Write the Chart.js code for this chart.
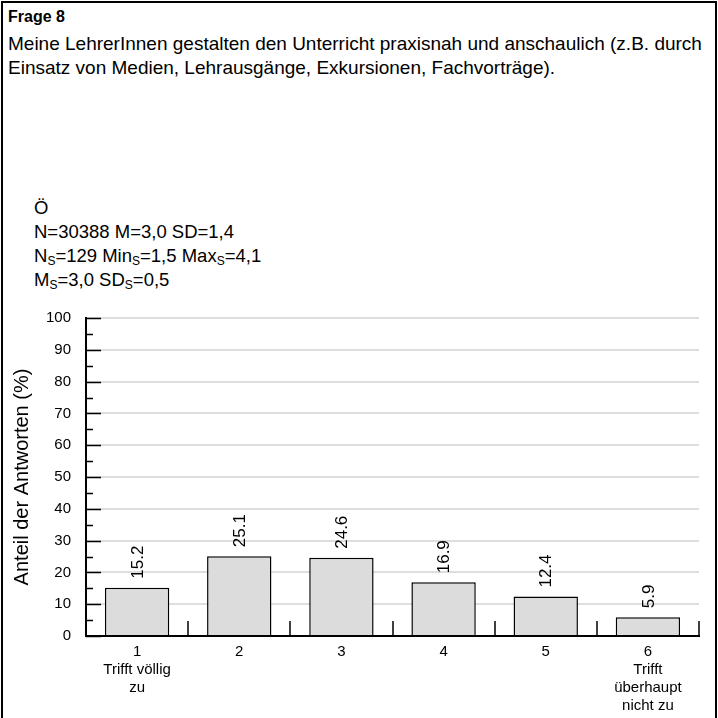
<!DOCTYPE html>
<html lang="de">
<head>
<meta charset="utf-8">
<script src="https://cdn.jsdelivr.net/npm/chart.js@4.4.1/dist/chart.umd.min.js"></script>
<style>
  html, body { margin: 0; padding: 0; background: #fff; }
  body { width: 718px; height: 718px; position: relative; overflow: hidden;
         font-family: "Liberation Sans", Arial, sans-serif; color: #000; }
  #frame { position: absolute; left: 1px; top: 1px; width: 716px; height: 730px;
           border: 2px solid #000; box-sizing: border-box; }
  .txt { position: absolute; font-size: 19px; line-height: 24px; white-space: nowrap; }
  #title { left: 8px; top: 5px; font-weight: bold; font-size: 16px; }
  #question { left: 8px; top: 32px; }
  #stats { left: 34px; top: 196px; font-size: 18.5px; }
  sub { font-size: 12px; vertical-align: -3px; line-height: 0; }
  #chartBox { position: absolute; left: 0; top: 0; width: 718px; height: 718px; }
</style>
</head>
<body>
<div id="frame"></div>
<div class="txt" id="title">Frage 8</div>
<div class="txt" id="question">Meine LehrerInnen gestalten den Unterricht praxisnah und anschaulich (z.B. durch<br>Einsatz von Medien, Lehrausgänge, Exkursionen, Fachvorträge).</div>
<div class="txt" id="stats">Ö<br>N=30388 M=3,0 SD=1,4<br>N<sub>S</sub>=129 Min<sub>S</sub>=1,5 Max<sub>S</sub>=4,1<br>M<sub>S</sub>=3,0 SD<sub>S</sub>=0,5</div>
<div id="chartBox"><canvas id="barChart"></canvas></div>
<script>
// Antwortverteilung in Prozent
const categories = [
  ["1", "Trifft völlig", "zu"],
  ["2"],
  ["3"],
  ["4"],
  ["5"],
  ["6", "Trifft", "überhaupt", "nicht zu"],
];
const shares = [15.2, 25.1, 24.6, 16.9, 12.4, 5.9];
const yTicks = [0, 10, 20, 30, 40, 50, 60, 70, 80, 90, 100];

const FONT = '"Liberation Sans", Arial, sans-serif';

// Tick marks drawn inside the plot area, like the original
const innerTicks = {
  id: "innerTicks",
  afterDatasetsDraw(chart) {
    const { ctx, chartArea, scales } = chart;
    const x = scales.x, y = scales.y;
    ctx.save();
    ctx.strokeStyle = "#000";
    ctx.lineWidth = 1.5;
    for (let v = 0; v <= 100; v += 5) {
      const py = Math.round(y.getPixelForValue(v)) + 0.5;
      const len = v % 10 === 0 ? 15 : 7;
      ctx.beginPath();
      ctx.moveTo(chartArea.left, py);
      ctx.lineTo(chartArea.left + len, py);
      ctx.stroke();
    }
    const half = (x.getPixelForValue(1) - x.getPixelForValue(0)) / 2;
    for (let i = 0; i < categories.length; i++) {
      const px = Math.round(x.getPixelForValue(i) + half);
      ctx.beginPath();
      ctx.moveTo(px, chartArea.bottom);
      ctx.lineTo(px, chartArea.bottom - 15);
      ctx.stroke();
    }
    ctx.restore();
  },
};

// Rotated value labels above each bar
const valueLabels = {
  id: "valueLabels",
  afterDatasetsDraw(chart) {
    const { ctx } = chart;
    const meta = chart.getDatasetMeta(0);
    ctx.save();
    ctx.fillStyle = "#000";
    ctx.font = "17px " + FONT;
    ctx.textAlign = "left";
    ctx.textBaseline = "middle";
    meta.data.forEach((bar, i) => {
      ctx.save();
      ctx.translate(bar.x + 1, bar.y - 9);
      ctx.rotate(-Math.PI / 2);
      ctx.fillText(shares[i].toFixed(1), 0, 0);
      ctx.restore();
    });
    ctx.restore();
  },
};

new Chart(document.getElementById("barChart"), {
  type: "bar",
  data: {
    labels: categories,
    datasets: [
      {
        data: shares,
        backgroundColor: "#dcdcdc",
        borderColor: "#000",
        borderWidth: 1.5,
        barPercentage: 0.63,
        categoryPercentage: 1,
      },
    ],
  },
  options: {
    responsive: true,
    maintainAspectRatio: false,
    animation: false,
    layout: { padding: { left: 0, top: 318, right: 19, bottom: 0 } },
    plugins: { legend: { display: false }, tooltip: { enabled: false } },
    scales: {
      x: {
        afterFit: (s) => { s.height = 82; },
        grid: { display: false, drawTicks: false },
        border: { color: "#000", width: 2 },
        ticks: {
          color: "#000",
          padding: 7,
          maxRotation: 0,
          autoSkip: false,
          font: { family: FONT, size: 15, lineHeight: 1.2 },
        },
      },
      y: {
        min: 0,
        max: 100,
        afterFit: (s) => { s.width = 86; },
        afterBuildTicks: (s) => { s.ticks = yTicks.map((v) => ({ value: v })); },
        grid: {
          drawTicks: false,
          color: (c) => (c.tick && c.tick.value === 0 ? "rgba(0,0,0,0)" : "#dedede"),
          lineWidth: 2,
        },
        border: { color: "#000", width: 2 },
        ticks: {
          color: "#000",
          padding: 15,
          font: { family: FONT, size: 15 },
        },
        title: {
          display: true,
          text: "Anteil der Antworten (%)",
          color: "#000",
          padding: { top: 10, bottom: 0 },
          font: { family: FONT, size: 20 },
        },
      },
    },
  },
  plugins: [innerTicks, valueLabels],
});
</script>
</body>
</html>
